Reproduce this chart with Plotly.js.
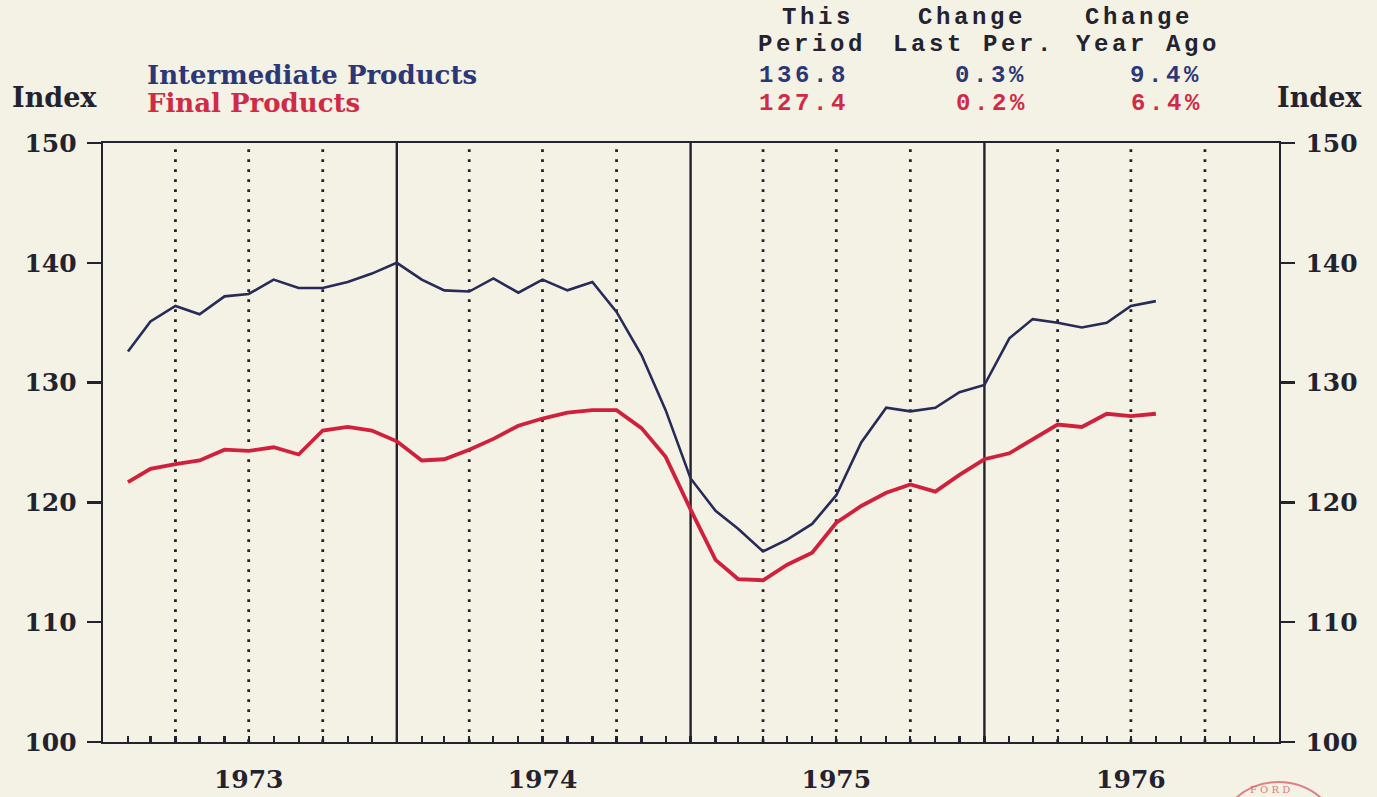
<!DOCTYPE html>
<html>
<head>
<meta charset="utf-8">
<script src="https://cdn.plot.ly/plotly-3.0.1.min.js"></script>
<style>
  html, body { margin: 0; padding: 0; background: #f4f1e5; }
  #chart { width: 1377px; height: 797px; }
</style>
</head>
<body>
<div id="chart"></div>
<script>
// ---- Data (monthly index values, Feb 1973 – Aug 1976) ----
const months = [
  '1973-02','1973-03','1973-04','1973-05','1973-06','1973-07','1973-08','1973-09','1973-10','1973-11','1973-12',
  '1974-01','1974-02','1974-03','1974-04','1974-05','1974-06','1974-07','1974-08','1974-09','1974-10','1974-11','1974-12',
  '1975-01','1975-02','1975-03','1975-04','1975-05','1975-06','1975-07','1975-08','1975-09','1975-10','1975-11','1975-12',
  '1976-01','1976-02','1976-03','1976-04','1976-05','1976-06','1976-07','1976-08'
];
const intermediateProducts = [
  132.6, 135.1, 136.4, 135.7, 137.2, 137.4, 138.6, 137.9, 137.9, 138.4, 139.1,
  140.0, 138.6, 137.7, 137.6, 138.7, 137.5, 138.6, 137.7, 138.4, 135.9, 132.3, 127.7,
  122.0, 119.3, 117.8, 115.9, 116.9, 118.2, 120.6, 125.0, 127.9, 127.6, 127.9, 129.2,
  129.8, 133.7, 135.3, 135.0, 134.6, 135.0, 136.4, 136.8
];
const finalProducts = [
  121.7, 122.8, 123.2, 123.5, 124.4, 124.3, 124.6, 124.0, 126.0, 126.3, 126.0,
  125.1, 123.5, 123.6, 124.4, 125.3, 126.4, 127.0, 127.5, 127.7, 127.7, 126.2, 123.8,
  119.4, 115.2, 113.6, 113.5, 114.8, 115.8, 118.3, 119.7, 120.8, 121.5, 120.9, 122.3,
  123.6, 124.1, 125.3, 126.5, 126.3, 127.4, 127.2, 127.4
];
const seriesNames = ['Intermediate Products', 'Final Products'];
const years = ['1973', '1974', '1975', '1976'];
const tableHeader1 = ['This', 'Change', 'Change'];
const tableHeader2 = ['Period', 'Last Per.', 'Year Ago'];
const intermediateStats = ['136.8', '0.3%', '9.4%'];
const finalStats = ['127.4', '0.2%', '6.4%'];

// ---- Styling ----
const BG = '#f4f1e5';
const INK = '#23232f';
const BLUE = '#272b58';
const BLUE_TXT = '#2c3778';
const RED = '#d1203c';
const RED_TXT = '#d12a46';
const SERIF = 'DejaVu Serif, Liberation Serif, serif';
const MONO = 'Liberation Mono, DejaVu Sans Mono, monospace';

// plot-area geometry in pixels
const L = 103, R = 1279, T = 143, B = 742;
const px = x => (x - L) / (R - L);
const py = y => (B - y) / (B - T);

// monthly tick positions & labels (year label sits at July)
const tickVals = [], tickText = [];
years.forEach(y => {
  for (let m = 1; m <= 12; m++) {
    tickVals.push(y + '-' + String(m).padStart(2, '0') + '-01');
    tickText.push(m === 7 ? y : '');
  }
});

// grid: solid at year starts, dotted at quarters
const shapes = [];
years.forEach((y, i) => {
  ['04', '07', '10'].forEach(mm => {
    shapes.push({type: 'line', xref: 'x', yref: 'paper', x0: y + '-' + mm + '-01', x1: y + '-' + mm + '-01',
      y0: 0, y1: 1, line: {color: INK, width: 2.8, dash: '2.8px,7.2px'}, layer: 'below'});
  });
  if (i > 0) {
    shapes.push({type: 'line', xref: 'x', yref: 'paper', x0: y + '-01-01', x1: y + '-01-01',
      y0: 0, y1: 1, line: {color: INK, width: 2.4}, layer: 'below'});
  }
});
// faint stamp at bottom-right corner
shapes.push({type: 'circle', xref: 'paper', yref: 'paper',
  x0: px(1212), x1: px(1345), y0: py(920), y1: py(782),
  line: {color: 'rgba(214,90,100,0.75)', width: 2}});

const traces = [
  {x: months, y: intermediateProducts, name: seriesNames[0], type: 'scatter', mode: 'lines',
   line: {color: BLUE, width: 2.6}, xaxis: 'x', yaxis: 'y'},
  {x: months, y: finalProducts, name: seriesNames[1], type: 'scatter', mode: 'lines',
   line: {color: RED, width: 3.8}, xaxis: 'x', yaxis: 'y2'}
];

const tickFont = {family: SERIF, size: 25, color: INK, weight: 'bold'};
const yCommon = {
  range: [100, 150], dtick: 10, tick0: 100, fixedrange: true,
  ticks: 'outside', ticklen: 14, tickwidth: 2.4, tickcolor: INK,
  showline: true, linewidth: 2.4, linecolor: INK,
  showgrid: false, zeroline: false, tickfont: tickFont, ticklabelstandoff: 5
};

function ann(text, x, y, opts) {
  return Object.assign({text: text, x: px(x), y: py(y), xref: 'paper', yref: 'paper',
    showarrow: false, xanchor: 'center', yanchor: 'middle'}, opts);
}
const serifFont = (c, s) => ({family: SERIF, size: s || 26, color: c, weight: 'bold'});
const monoFont = (c) => ({family: MONO, size: 24, color: c, weight: 'bold'});
const sp = t => '<span style="letter-spacing:3.6px">' + t + '</span>';

const annotations = [
  ann('Index', 10, 97, {xanchor: 'left', font: serifFont(INK, 27)}),
  ann('Index', 1364, 97, {xanchor: 'right', font: serifFont(INK, 27)}),
  ann(seriesNames[0], 145, 75, {xanchor: 'left', font: serifFont(BLUE_TXT)}),
  ann(seriesNames[1], 145, 103, {xanchor: 'left', font: serifFont(RED_TXT)}),
  ann(sp(tableHeader1[0]), 818, 18, {font: monoFont(INK)}),
  ann(sp(tableHeader1[1]), 972, 18, {font: monoFont(INK)}),
  ann(sp(tableHeader1[2]), 1139, 18, {font: monoFont(INK)}),
  ann(sp(tableHeader2[0]), 812, 45, {font: monoFont(INK)}),
  ann(sp(tableHeader2[1]), 974, 45, {font: monoFont(INK)}),
  ann(sp(tableHeader2[2]), 1148, 45, {font: monoFont(INK)}),
  ann(sp(intermediateStats[0]), 757, 75, {xanchor: 'left', font: monoFont(BLUE_TXT)}),
  ann(sp(intermediateStats[1]), 1029, 75, {xanchor: 'right', font: monoFont(BLUE_TXT)}),
  ann(sp(intermediateStats[2]), 1204, 75, {xanchor: 'right', font: monoFont(BLUE_TXT)}),
  ann(sp(finalStats[0]), 757, 103, {xanchor: 'left', font: monoFont(RED_TXT)}),
  ann(sp(finalStats[1]), 1030, 103, {xanchor: 'right', font: monoFont(RED_TXT)}),
  ann(sp(finalStats[2]), 1205, 103, {xanchor: 'right', font: monoFont(RED_TXT)}),
  ann('F O R D', 1270, 789, {font: {family: SERIF, size: 10, color: 'rgba(214,90,100,0.8)'}})
];

const layout = {
  width: 1377, height: 797,
  margin: {l: L, r: 1377 - R, t: T, b: 797 - B, pad: 0},
  paper_bgcolor: BG, plot_bgcolor: BG,
  showlegend: false,
  xaxis: {
    type: 'date', range: ['1973-01-01', '1977-01-01'], fixedrange: true,
    tickmode: 'array', tickvals: tickVals, ticktext: tickText,
    ticks: 'inside', ticklen: 6, tickwidth: 2.2, tickcolor: INK,
    showline: true, linewidth: 2.4, linecolor: INK, mirror: true,
    showgrid: false, zeroline: false, tickfont: tickFont, ticklabelstandoff: 14
  },
  yaxis: Object.assign({side: 'left'}, yCommon),
  yaxis2: Object.assign({side: 'right', overlaying: 'y', anchor: 'x'}, yCommon),
  shapes: shapes,
  annotations: annotations
};

Plotly.newPlot('chart', traces, layout, {displayModeBar: false, staticPlot: true});
</script>
</body>
</html>
